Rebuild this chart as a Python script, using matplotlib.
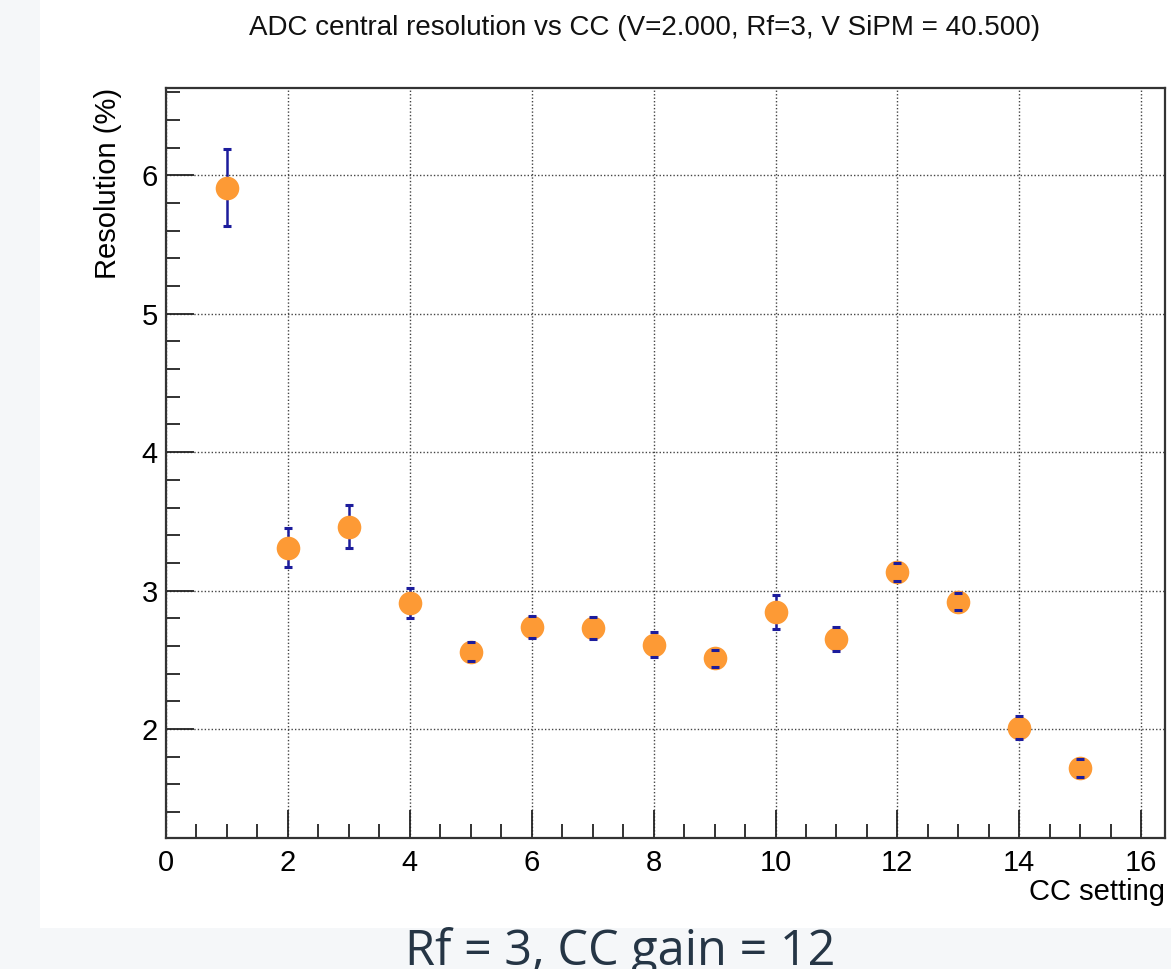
import matplotlib
matplotlib.use('Agg')
import matplotlib.pyplot as plt
from matplotlib.patches import Rectangle
from matplotlib.ticker import MultipleLocator

# data
cc = [1, 2, 3, 4, 5, 6, 7, 8, 9, 10, 11, 12, 13, 14, 15]
res = [5.91, 3.31, 3.46, 2.91, 2.56, 2.74, 2.73, 2.61, 2.51, 2.845, 2.65, 3.135, 2.92, 2.01, 1.72]
err = [0.28, 0.14, 0.155, 0.11, 0.07, 0.08, 0.08, 0.09, 0.06, 0.12, 0.085, 0.065, 0.062, 0.085, 0.065]

title = "ADC central resolution vs CC (V=2.000, Rf=3, V SiPM = 40.500)"
caption = "Rf = 3, CC gain = 12"

W, H = 1171, 969
fig = plt.figure(figsize=(W / 100, H / 100), dpi=100)
fig.patch.set_facecolor('#f5f7f9')
# white picture panel
fig.patches.append(Rectangle((40 / W, 1 - 928 / H), 1 - 40 / W, 928 / H,
                             transform=fig.transFigure, facecolor='white',
                             edgecolor='none', zorder=-10))

ax = fig.add_axes([166 / W, 1 - 838 / H, (1165 - 166) / W, (838 - 88) / H])
ax.set_facecolor('white')

ax.errorbar(cc, res, yerr=err, fmt='none', ecolor='#1c1c9c', elinewidth=1.8,
            capsize=0, zorder=2)
ax.plot(cc, res, 'o', color='#fd9a35', ms=17, mec='none', zorder=3)
lo = [r - e for r, e in zip(res, err)]
hi = [r + e for r, e in zip(res, err)]
ax.plot(cc, lo, '_', color='#1c1c9c', ms=6, mew=2.2, zorder=4)
ax.plot(cc, hi, '_', color='#1c1c9c', ms=6, mew=2.2, zorder=4)

ax.set_xlim(0, 16.39)
ax.set_ylim(1.213, 6.63)
ax.xaxis.set_major_locator(MultipleLocator(2))
ax.xaxis.set_minor_locator(MultipleLocator(0.5))
ax.yaxis.set_major_locator(MultipleLocator(1))
ax.yaxis.set_minor_locator(MultipleLocator(0.2))
ax.tick_params(which='both', direction='in', top=False, right=False,
               color='#222222', width=1.3, labelsize=21)
ax.tick_params(axis='x', pad=8)
ax.tick_params(axis='y', pad=6)
ax.tick_params(which='major', length=20)
ax.tick_params(which='minor', length=10)
for lab in ax.get_xticklabels() + ax.get_yticklabels():
    lab.set_family('Liberation Sans')

ax.grid(True, which='major', linestyle=(0, (1, 1.5)), color='#444444', linewidth=1.0)
ax.set_axisbelow(True)
for s in ax.spines.values():
    s.set_color('#333333')
    s.set_linewidth(1.6)

ax.set_ylabel("Resolution (%)", loc='top', fontsize=21, family='Liberation Sans', labelpad=14)
ax.set_xlabel("CC setting", loc='right', fontsize=21, family='Liberation Sans', labelpad=1)

fig.text(645 / W, 1 - 28 / H, title, ha='center', va='center', fontsize=20,
         family='Liberation Sans', color='#111111')
fig.text(620 / W, 1 - 965 / H, caption, ha='center', va='baseline', fontsize=35,
         family='Open Sans', color='#253545')

fig.savefig('out.png', dpi=100, facecolor=fig.get_facecolor())
